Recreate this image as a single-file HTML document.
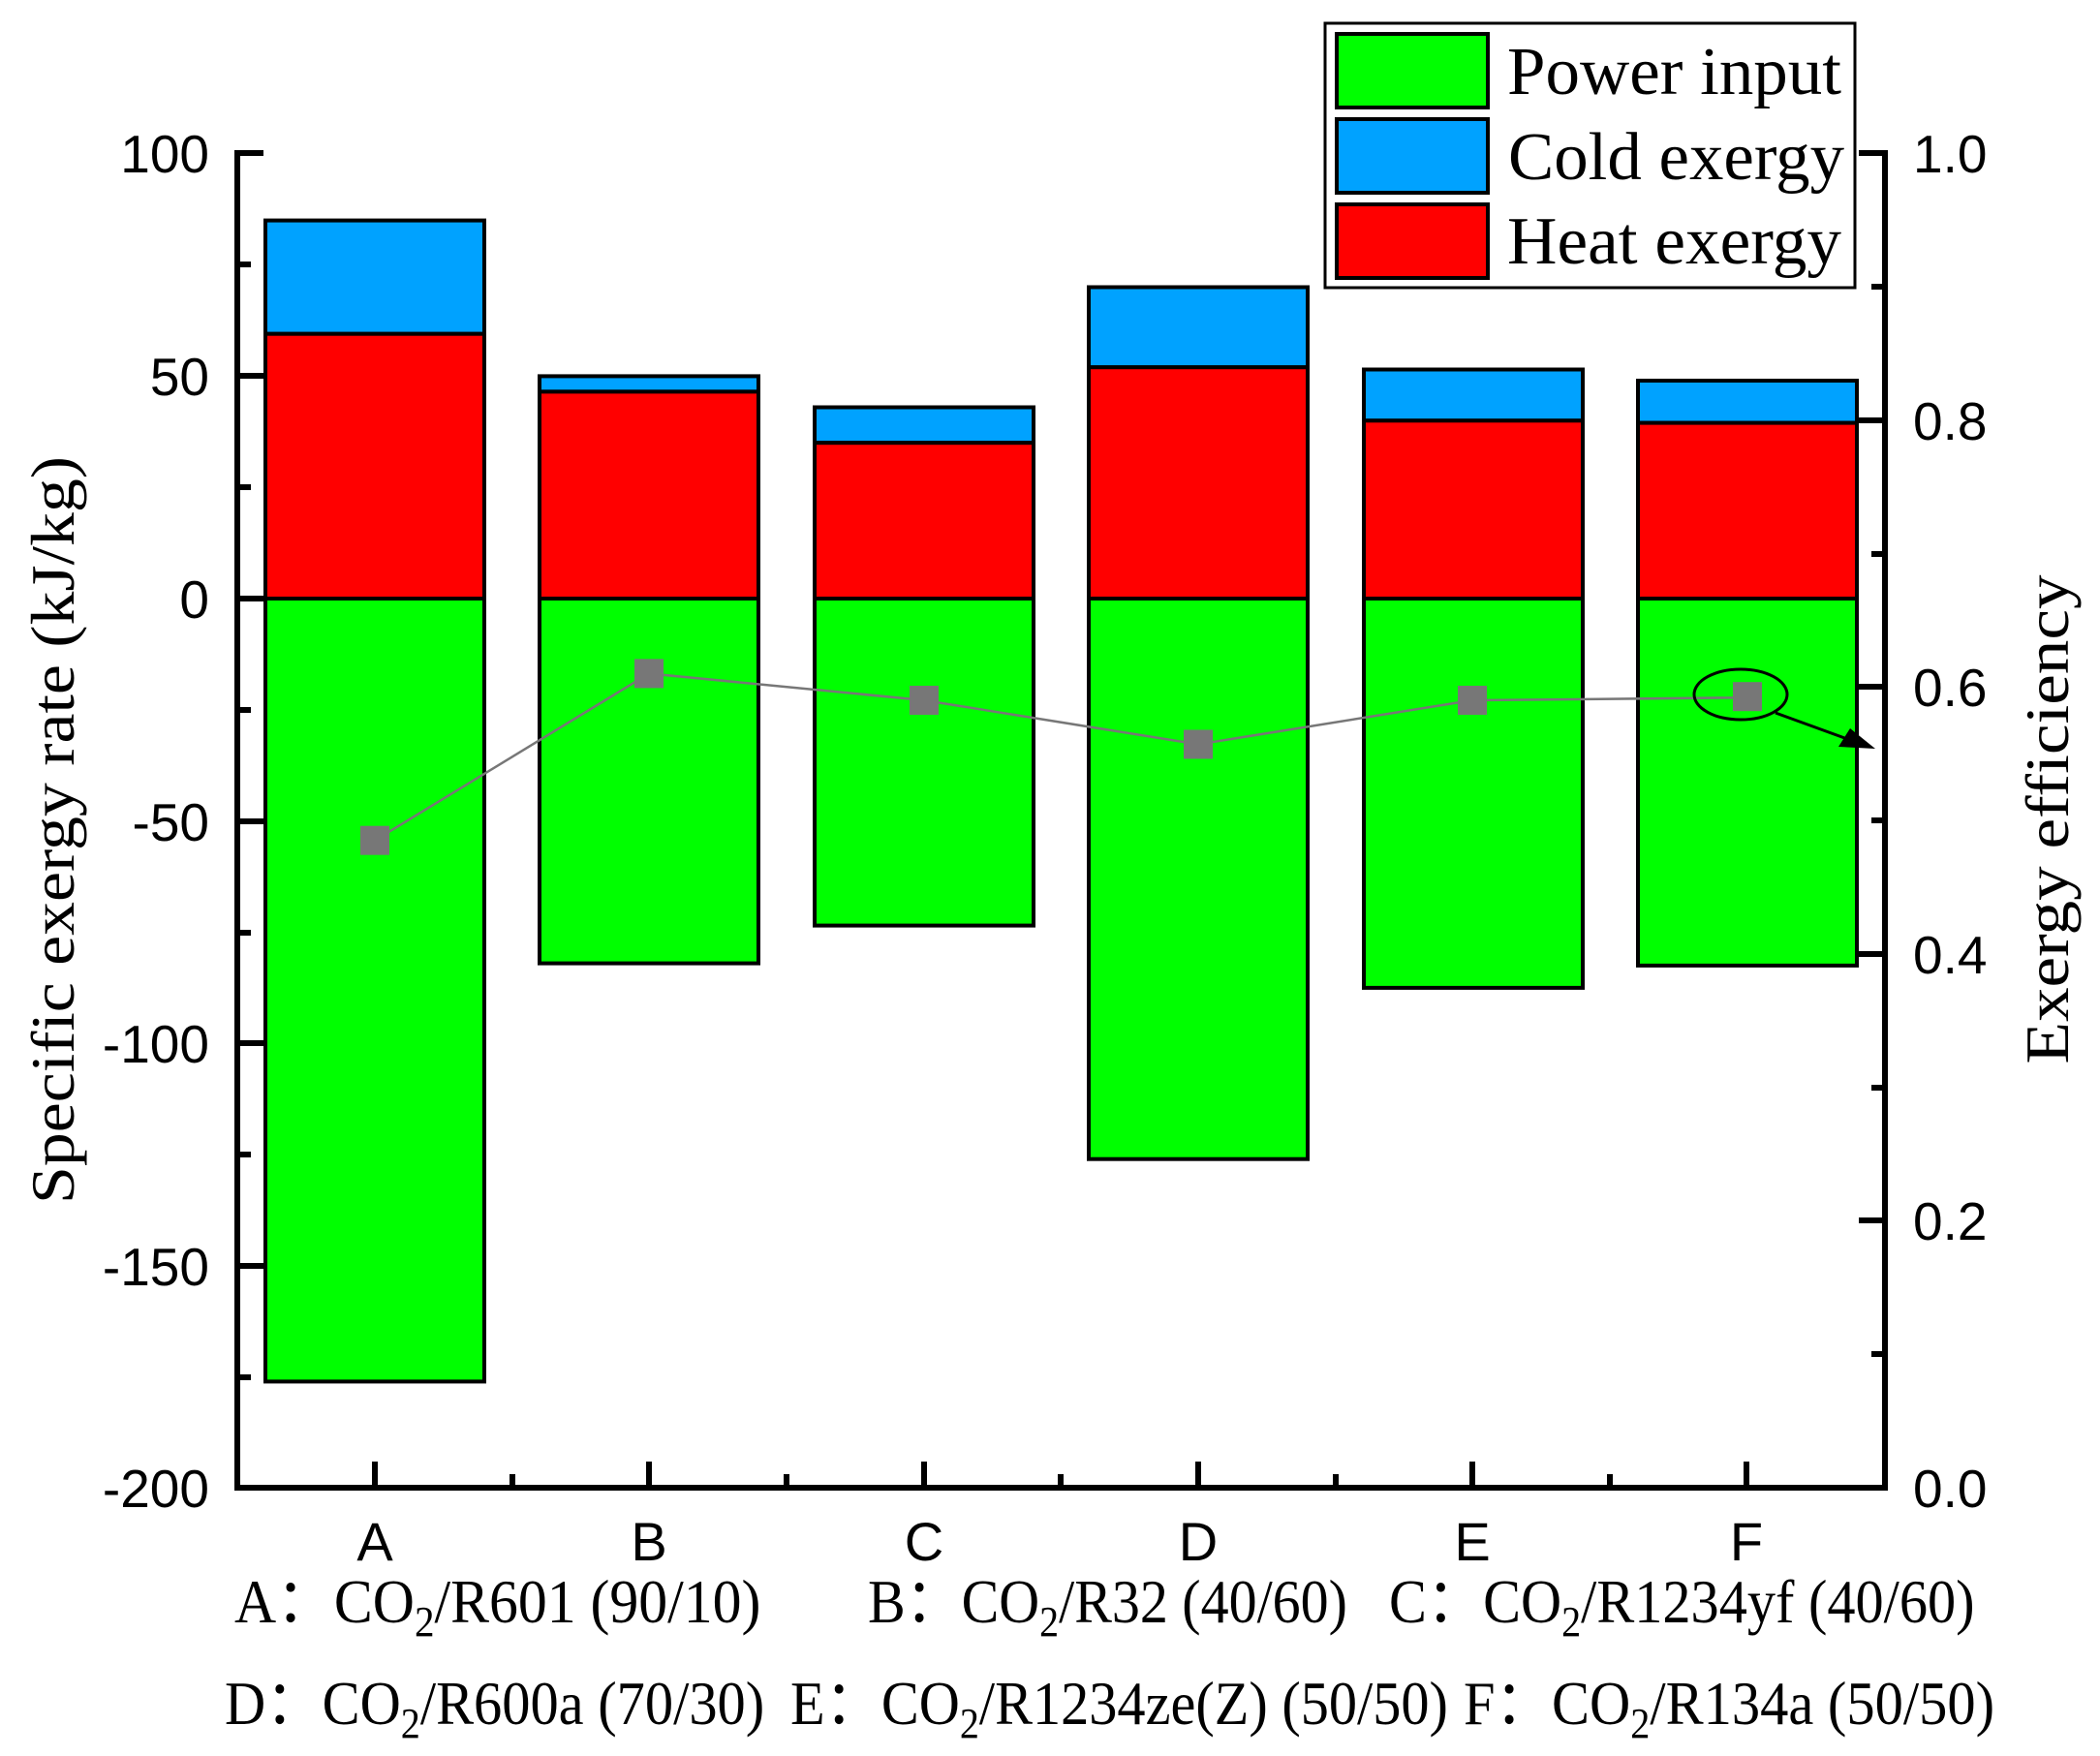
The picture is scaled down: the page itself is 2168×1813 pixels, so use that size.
<!DOCTYPE html>
<html><head><meta charset="utf-8"><style>
html,body{margin:0;padding:0;background:#fff}
svg{display:block}
.a{font-family:"Liberation Sans",Arial,sans-serif}
.t{font-family:"Liberation Serif","Times New Roman",serif}
</style></head><body>
<svg width="2168" height="1813" viewBox="0 0 2168 1813" xmlns="http://www.w3.org/2000/svg">
<rect width="2168" height="1813" fill="#fff"/>
<g stroke="#000" stroke-width="4">
<rect x="274" y="227.6" width="226" height="117.1" fill="#00a2ff"/>
<rect x="274" y="344.7" width="226" height="273.3" fill="#ff0000"/>
<rect x="274" y="618" width="226" height="808.4" fill="#00ff00"/>
<rect x="557" y="388.4" width="226" height="16" fill="#00a2ff"/>
<rect x="557" y="404.4" width="226" height="213.6" fill="#ff0000"/>
<rect x="557" y="618" width="226" height="376.6" fill="#00ff00"/>
<rect x="841" y="420.5" width="226" height="36.7" fill="#00a2ff"/>
<rect x="841" y="457.2" width="226" height="160.8" fill="#ff0000"/>
<rect x="841" y="618" width="226" height="337.6" fill="#00ff00"/>
<rect x="1124" y="296.5" width="226" height="82.7" fill="#00a2ff"/>
<rect x="1124" y="379.2" width="226" height="238.8" fill="#ff0000"/>
<rect x="1124" y="618" width="226" height="578.7" fill="#00ff00"/>
<rect x="1408" y="381.5" width="226" height="52.8" fill="#00a2ff"/>
<rect x="1408" y="434.3" width="226" height="183.7" fill="#ff0000"/>
<rect x="1408" y="618" width="226" height="401.9" fill="#00ff00"/>
<rect x="1691" y="393" width="226" height="43.6" fill="#00a2ff"/>
<rect x="1691" y="436.6" width="226" height="181.4" fill="#ff0000"/>
<rect x="1691" y="618" width="226" height="378.9" fill="#00ff00"/>
</g>
<polyline points="387,867.7 670,695.4 954,723 1237,768.5 1520,723 1803,720.2" fill="none" stroke="#777" stroke-width="2.5"/>
<g fill="#777">
<rect x="372" y="852.7" width="30" height="30"/>
<rect x="655" y="680.4" width="30" height="30"/>
<rect x="939" y="708" width="30" height="30"/>
<rect x="1222" y="753.5" width="30" height="30"/>
<rect x="1505" y="708" width="30" height="30"/>
<rect x="1789" y="704.2" width="30" height="30"/>
</g>
<ellipse cx="1797" cy="717" rx="48" ry="26" fill="none" stroke="#000" stroke-width="3"/>
<line x1="1833" y1="736" x2="1910" y2="764" stroke="#000" stroke-width="3"/>
<polygon points="1936,773 1898,771 1910,752" fill="#000"/>
<g stroke="#000" stroke-width="6" fill="none">
<line x1="245" y1="155" x2="245" y2="1539"/>
<line x1="1946" y1="155" x2="1946" y2="1539"/>
<line x1="242" y1="1536" x2="1949" y2="1536"/>
<line x1="245" y1="158" x2="272" y2="158"/>
<line x1="245" y1="388" x2="272" y2="388"/>
<line x1="245" y1="618" x2="272" y2="618"/>
<line x1="245" y1="848" x2="272" y2="848"/>
<line x1="245" y1="1077" x2="272" y2="1077"/>
<line x1="245" y1="1307" x2="272" y2="1307"/>
<line x1="245" y1="273" x2="259" y2="273"/>
<line x1="245" y1="503" x2="259" y2="503"/>
<line x1="245" y1="733" x2="259" y2="733"/>
<line x1="245" y1="963" x2="259" y2="963"/>
<line x1="245" y1="1192" x2="259" y2="1192"/>
<line x1="245" y1="1422" x2="259" y2="1422"/>
<line x1="1919" y1="158" x2="1946" y2="158"/>
<line x1="1919" y1="434" x2="1946" y2="434"/>
<line x1="1919" y1="709" x2="1946" y2="709"/>
<line x1="1919" y1="985" x2="1946" y2="985"/>
<line x1="1919" y1="1260" x2="1946" y2="1260"/>
<line x1="1932" y1="296" x2="1946" y2="296"/>
<line x1="1932" y1="572" x2="1946" y2="572"/>
<line x1="1932" y1="847" x2="1946" y2="847"/>
<line x1="1932" y1="1123" x2="1946" y2="1123"/>
<line x1="1932" y1="1398" x2="1946" y2="1398"/>
<line x1="387" y1="1509" x2="387" y2="1536"/>
<line x1="670" y1="1509" x2="670" y2="1536"/>
<line x1="954" y1="1509" x2="954" y2="1536"/>
<line x1="1237" y1="1509" x2="1237" y2="1536"/>
<line x1="1520" y1="1509" x2="1520" y2="1536"/>
<line x1="1803" y1="1509" x2="1803" y2="1536"/>
<line x1="529" y1="1522" x2="529" y2="1536"/>
<line x1="812" y1="1522" x2="812" y2="1536"/>
<line x1="1095" y1="1522" x2="1095" y2="1536"/>
<line x1="1379" y1="1522" x2="1379" y2="1536"/>
<line x1="1662" y1="1522" x2="1662" y2="1536"/>
</g>
<g class="a" font-size="55" text-anchor="end" fill="#000">
<text x="216" y="178">100</text>
<text x="216" y="408">50</text>
<text x="216" y="638">0</text>
<text x="216" y="868">-50</text>
<text x="216" y="1097">-100</text>
<text x="216" y="1327">-150</text>
<text x="216" y="1556">-200</text>
</g>
<g class="a" font-size="55" fill="#000">
<text x="1975" y="178">1.0</text>
<text x="1975" y="454">0.8</text>
<text x="1975" y="729">0.6</text>
<text x="1975" y="1005">0.4</text>
<text x="1975" y="1280">0.2</text>
<text x="1975" y="1556">0.0</text>
</g>
<g class="a" font-size="56" text-anchor="middle" fill="#000">
<text x="387" y="1611">A</text>
<text x="670" y="1611">B</text>
<text x="954" y="1611">C</text>
<text x="1237" y="1611">D</text>
<text x="1520" y="1611">E</text>
<text x="1803" y="1611">F</text>
</g>
<text class="t" font-size="64" transform="translate(76,857) rotate(-90)" text-anchor="middle" textLength="772" lengthAdjust="spacingAndGlyphs">Specific exergy rate (kJ/kg)</text>
<text class="t" font-size="64" transform="translate(2135,846) rotate(-90)" text-anchor="middle" textLength="505" lengthAdjust="spacingAndGlyphs">Exergy efficiency</text>
<rect x="1368" y="24" width="547" height="273" fill="#fff" stroke="#000" stroke-width="3"/>
<g stroke="#000" stroke-width="4">
<rect x="1380" y="35" width="156" height="76" fill="#00ff00"/>
<rect x="1380" y="123" width="156" height="76" fill="#00a2ff"/>
<rect x="1380" y="211" width="156" height="76" fill="#ff0000"/>
</g>
<g class="t" font-size="70" fill="#000">
<text x="1556" y="97" textLength="345" lengthAdjust="spacingAndGlyphs">Power input</text>
<text x="1557" y="185" textLength="347" lengthAdjust="spacingAndGlyphs">Cold exergy</text>
<text x="1556" y="272" textLength="345" lengthAdjust="spacingAndGlyphs">Heat exergy</text>
</g>
<g class="t" font-size="64" fill="#000">
<text transform="translate(242,1675) scale(0.934,1)">A：CO<tspan font-size="44" dy="14">2</tspan><tspan dy="-14">/R601 (90/10)</tspan></text>
<text transform="translate(896,1675) scale(0.906,1)">B：CO<tspan font-size="44" dy="14">2</tspan><tspan dy="-14">/R32 (40/60)</tspan></text>
<text transform="translate(1434,1675) scale(0.911,1)">C：CO<tspan font-size="44" dy="14">2</tspan><tspan dy="-14">/R1234yf (40/60)</tspan></text>
<text transform="translate(232,1780) scale(0.913,1)">D：CO<tspan font-size="44" dy="14">2</tspan><tspan dy="-14">/R600a (70/30)</tspan></text>
<text transform="translate(816,1780) scale(0.911,1)">E：CO<tspan font-size="44" dy="14">2</tspan><tspan dy="-14">/R1234ze(Z) (50/50)</tspan></text>
<text transform="translate(1511,1780) scale(0.914,1)">F：CO<tspan font-size="44" dy="14">2</tspan><tspan dy="-14">/R134a (50/50)</tspan></text>
</g>
</svg>
</body></html>
